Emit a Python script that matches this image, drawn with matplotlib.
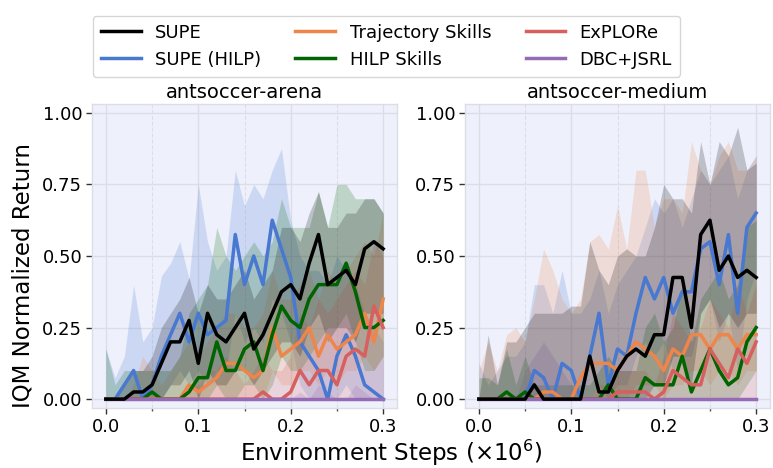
import matplotlib
matplotlib.use("Agg")
import matplotlib.pyplot as plt
from matplotlib.ticker import MultipleLocator, FormatStrFormatter
import numpy as np

steps = [0.00, 0.01, 0.02, 0.03, 0.04, 0.05, 0.06, 0.07, 0.08, 0.09, 0.10,
         0.11, 0.12, 0.13, 0.14, 0.15, 0.16, 0.17, 0.18, 0.19, 0.20,
         0.21, 0.22, 0.23, 0.24, 0.25, 0.26, 0.27, 0.28, 0.29, 0.30]

methods = ["SUPE", "SUPE (HILP)", "Trajectory Skills", "HILP Skills", "ExPLORe", "DBC+JSRL"]
colors = {"SUPE": "#000000", "SUPE (HILP)": "#4878d0", "Trajectory Skills": "#ee854a",
          "HILP Skills": "#006400", "ExPLORe": "#d65f5f", "DBC+JSRL": "#956cb4"}
titles = ["antsoccer-arena", "antsoccer-medium"]

# ---------------- antsoccer-arena ----------------
supe_mean_A = [0, 0, 0, 0.025, 0.025, 0.05, 0.125, 0.2, 0.2, 0.275, 0.125, 0.3, 0.225, 0.2, 0.25, 0.3,
               0.175, 0.225, 0.3, 0.375, 0.4, 0.35, 0.475, 0.575, 0.4, 0.425, 0.45, 0.4, 0.525, 0.55, 0.525]
supe_lo_A = [0, 0, 0, 0, 0, 0, 0, 0.05, 0.05, 0.1, 0, 0.1, 0.05, 0.05, 0.1, 0.1,
             0.05, 0.1, 0.15, 0.2, 0.2, 0.15, 0.25, 0.3, 0.2, 0.25, 0.25, 0.2, 0.3, 0.3, 0.3]
supe_hi_A = [0, 0, 0.05, 0.1, 0.1, 0.15, 0.25, 0.3, 0.35, 0.425, 0.3, 0.4, 0.35, 0.35, 0.4, 0.45,
             0.35, 0.4, 0.45, 0.6, 0.6, 0.55, 0.65, 0.725, 0.6, 0.6, 0.65, 0.65, 0.7, 0.7, 0.65]

hilp_mean_A = [0, 0, 0.05, 0.1, 0, 0.05, 0.15, 0.225, 0.3, 0.2, 0.3, 0.225, 0.25, 0.275, 0.575, 0.4,
               0.5, 0.4, 0.625, 0.525, 0.425, 0.2, 0.15, 0.1, 0, 0.15, 0.225, 0.15, 0.05, 0.025, 0]
hilp_lo_A = [0, 0, 0, 0, 0, 0, 0, 0.05, 0.1, 0.05, 0.1, 0.05, 0.1, 0.1, 0.3, 0.2,
             0.25, 0.2, 0.35, 0.3, 0.2, 0.05, 0, 0, 0, 0, 0.05, 0, 0, 0, 0]
hilp_hi_A = [0.175, 0.075, 0.15, 0.4, 0.2, 0.25, 0.43, 0.475, 0.55, 0.42, 0.75, 0.55, 0.45, 0.5, 0.8, 0.675,
             0.75, 0.7, 0.8, 0.875, 0.625, 0.5, 0.45, 0.45, 0.4, 0.5, 0.45, 0.4, 0.3, 0.25, 0.2]

traj_mean_A = [0, 0, 0, 0, 0, 0, 0, 0, 0, 0.05, 0.025, 0.05, 0.075, 0.125, 0.125, 0.1,
               0.075, 0.1, 0.25, 0.15, 0.175, 0.2, 0.25, 0.15, 0.225, 0.175, 0.2, 0.225, 0.3, 0.2, 0.35]
traj_lo_A = [0, 0, 0, 0, 0, 0, 0, 0, 0, 0, 0, 0, 0, 0, 0, 0,
             0, 0, 0.1, 0.05, 0.05, 0.1, 0.1, 0.05, 0.1, 0.05, 0.1, 0.1, 0.15, 0.1, 0.15]
traj_hi_A = [0, 0, 0, 0.05, 0.15, 0.1, 0.05, 0.1, 0.15, 0.2, 0.15, 0.2, 0.25, 0.3, 0.3, 0.25,
             0.25, 0.3, 0.45, 0.35, 0.35, 0.4, 0.45, 0.35, 0.45, 0.4, 0.45, 0.5, 0.55, 0.5, 0.65]

hskill_mean_A = [0, 0, 0, 0, 0, 0.025, 0, 0, 0, 0.025, 0.075, 0.075, 0.2, 0.1, 0.1, 0.175,
                 0.2, 0.1, 0.225, 0.325, 0.275, 0.25, 0.35, 0.4, 0.4, 0.4, 0.475, 0.375, 0.25, 0.25, 0.275]
hskill_lo_A = [0, 0, 0, 0, 0, 0, 0, 0, 0, 0, 0, 0, 0.05, 0, 0, 0.05,
               0.05, 0, 0.05, 0.15, 0.1, 0.1, 0.15, 0.2, 0.25, 0.25, 0.3, 0.2, 0.1, 0.1, 0.15]
hskill_hi_A = [0.175, 0.05, 0.1, 0.1, 0.1, 0.1, 0.1, 0.1, 0.15, 0.3, 0.35, 0.4, 0.6, 0.5, 0.45, 0.5,
               0.55, 0.5, 0.55, 0.7, 0.6, 0.6, 0.6, 0.725, 0.6, 0.75, 0.75, 0.7, 0.7, 0.7, 0.65]

explore_mean_A = [0, 0, 0, 0, 0, 0, 0, 0, 0, 0, 0, 0, 0, 0, 0, 0,
                  0, 0.025, 0, 0, 0.025, 0.1, 0.05, 0.1, 0.1, 0.05, 0.15, 0.175, 0.15, 0.325, 0.25]
explore_lo_A = [0] * 31
explore_hi_A = [0, 0, 0, 0, 0, 0, 0, 0, 0, 0.05, 0.05, 0.1, 0.1, 0.15, 0.1, 0.05,
                0.1, 0.15, 0.1, 0.1, 0.15, 0.3, 0.25, 0.35, 0.3, 0.35, 0.4, 0.45, 0.4, 0.55, 0.5]

dbc_mean_A = [0] * 31
dbc_lo_A = [0] * 31
dbc_hi_A = [0, 0, 0, 0, 0, 0, 0, 0, 0, 0, 0, 0, 0, 0, 0, 0,
            0, 0, 0, 0, 0, 0.025, 0, 0.05, 0.025, 0, 0, 0.05, 0.025, 0, 0]

# ---------------- antsoccer-medium ----------------
supe_mean_B = [0, 0, 0, 0, 0, 0, 0.05, 0, 0, 0, 0, 0, 0.15, 0.025, 0.025, 0.1,
               0.15, 0.175, 0.15, 0.225, 0.225, 0.425, 0.425, 0.25, 0.575, 0.625, 0.45, 0.5, 0.425, 0.45, 0.425]
supe_lo_B = [0, 0, 0, 0, 0, 0, 0, 0, 0, 0, 0, 0, 0, 0, 0, 0,
             0, 0, 0, 0.05, 0.05, 0.15, 0.15, 0.05, 0.3, 0.35, 0.25, 0.3, 0.25, 0.3, 0.3]
supe_hi_B = [0, 0.225, 0.05, 0.2, 0.2, 0.25, 0.3, 0.3, 0.3, 0.3, 0.325, 0.325, 0.55, 0.45, 0.4, 0.5,
             0.525, 0.5, 0.5, 0.6, 0.75, 0.7, 0.7, 0.65, 0.9, 0.75, 0.9, 0.85, 0.95, 0.8, 0.825]

hilp_mean_B = [0, 0, 0, 0, 0, 0, 0.1, 0.075, 0, 0.125, 0.1, 0, 0.15, 0.3, 0.05, 0.175,
               0.15, 0.3, 0.425, 0.35, 0.425, 0.3, 0.375, 0.375, 0.525, 0.55, 0.4, 0.575, 0.3, 0.6, 0.65]
hilp_lo_B = [0, 0, 0, 0, 0, 0, 0, 0, 0, 0, 0, 0, 0, 0.05, 0, 0.05,
             0.05, 0.15, 0.2, 0.15, 0.2, 0.1, 0.15, 0.15, 0.3, 0.35, 0.2, 0.3, 0.1, 0.35, 0.45]
hilp_hi_B = [0.125, 0.05, 0.1, 0.15, 0.15, 0.2, 0.4, 0.4, 0.3, 0.45, 0.3, 0.3, 0.35, 0.45, 0.3, 0.4,
             0.45, 0.5, 0.6, 0.7, 0.65, 0.7, 0.6, 0.7, 0.8, 0.75, 0.8, 0.85, 0.7, 0.8, 0.85]

traj_mean_B = [0, 0, 0, 0, 0, 0, 0, 0.025, 0.025, 0, 0, 0.075, 0.125, 0.125, 0.125, 0.1,
               0.15, 0.2, 0.175, 0.15, 0.1, 0.175, 0.15, 0.225, 0.225, 0.175, 0.225, 0.225, 0.175, 0.225, 0.225]
traj_lo_B = [0, 0, 0, 0, 0, 0, 0, 0, 0, 0, 0, 0, 0, 0, 0, 0,
             0, 0.05, 0.05, 0.05, 0, 0.05, 0.05, 0.1, 0.1, 0.05, 0.1, 0.1, 0.05, 0.1, 0.1]
traj_hi_B = [0.1, 0.2, 0.1, 0.225, 0.25, 0.2, 0.35, 0.525, 0.45, 0.35, 0.3, 0.35, 0.55, 0.575, 0.525, 0.675,
             0.525, 0.8, 0.8, 0.6, 0.7, 0.7, 0.65, 0.9, 0.8, 0.75, 0.85, 0.9, 0.8, 0.8, 0.85]

hskill_mean_B = [0, 0, 0, 0.025, 0, 0.025, 0, 0, 0, 0, 0, 0, 0, 0, 0.05, 0,
                 0, 0, 0.075, 0.05, 0.05, 0.05, 0.15, 0.025, 0.1, 0.175, 0.1, 0.05, 0.075, 0.2, 0.25]
hskill_lo_B = [0, 0, 0, 0, 0, 0, 0, 0, 0, 0, 0, 0, 0, 0, 0, 0,
               0, 0, 0, 0, 0, 0, 0, 0, 0, 0, 0, 0, 0, 0.05, 0.1]
hskill_hi_B = [0.075, 0.075, 0.05, 0.175, 0.05, 0.15, 0.05, 0.05, 0.05, 0.05, 0.05, 0.05, 0.05, 0.1, 0.15, 0.1,
               0.1, 0.1, 0.25, 0.3, 0.2, 0.25, 0.4, 0.2, 0.35, 0.4, 0.45, 0.35, 0.4, 0.6, 0.625]

explore_mean_B = [0, 0, 0, 0, 0, 0, 0, 0, 0, 0, 0, 0, 0, 0, 0, 0.025,
                  0.025, 0.025, 0.025, 0, 0.025, 0.1, 0.075, 0.05, 0.05, 0.175, 0.125, 0.075, 0.175, 0.125, 0.2]
explore_lo_B = [0] * 31
explore_hi_B = [0, 0, 0, 0, 0, 0, 0, 0, 0, 0, 0, 0, 0, 0.05, 0.05, 0.1,
                0.1, 0.1, 0.1, 0.05, 0.15, 0.3, 0.25, 0.2, 0.25, 0.35, 0.3, 0.25, 0.4, 0.3, 0.4]

dbc_mean_B = [0] * 31
dbc_lo_B = [0] * 31
dbc_hi_B = [0, 0, 0, 0, 0, 0.1, 0.15, 0.2, 0.15, 0.1, 0.05, 0, 0, 0, 0, 0,
            0, 0, 0, 0, 0, 0, 0, 0, 0, 0, 0, 0, 0, 0, 0]

panels = [
    {"SUPE": (supe_mean_A, supe_lo_A, supe_hi_A),
     "SUPE (HILP)": (hilp_mean_A, hilp_lo_A, hilp_hi_A),
     "Trajectory Skills": (traj_mean_A, traj_lo_A, traj_hi_A),
     "HILP Skills": (hskill_mean_A, hskill_lo_A, hskill_hi_A),
     "ExPLORe": (explore_mean_A, explore_lo_A, explore_hi_A),
     "DBC+JSRL": (dbc_mean_A, dbc_lo_A, dbc_hi_A)},
    {"SUPE": (supe_mean_B, supe_lo_B, supe_hi_B),
     "SUPE (HILP)": (hilp_mean_B, hilp_lo_B, hilp_hi_B),
     "Trajectory Skills": (traj_mean_B, traj_lo_B, traj_hi_B),
     "HILP Skills": (hskill_mean_B, hskill_lo_B, hskill_hi_B),
     "ExPLORe": (explore_mean_B, explore_lo_B, explore_hi_B),
     "DBC+JSRL": (dbc_mean_B, dbc_lo_B, dbc_hi_B)},
]

plt.rcParams['font.family'] = ['DejaVu Sans']
fig = plt.figure(figsize=(7.73, 4.68), dpi=100)
W, H = 773, 468
ax_rects = [[92 / W, 1 - 408 / H, 305 / W, 304 / H],
            [465 / W, 1 - 408 / H, 305 / W, 304 / H]]

draw_order = ["SUPE (HILP)", "Trajectory Skills", "HILP Skills", "ExPLORe", "DBC+JSRL", "SUPE"]
handles = {}
for k, data in enumerate(panels):
    ax = fig.add_axes(ax_rects[k])
    ax.set_facecolor("#eef1fc")
    for sp in ax.spines.values():
        sp.set_color("#dcdde6")
        sp.set_linewidth(1.0)
    for m in draw_order:
        mean, lo, hi = data[m]
        ax.fill_between(steps, lo, hi, color=colors[m], alpha=0.2, linewidth=0, zorder=1)
    for z, m in enumerate(draw_order):
        mean, lo, hi = data[m]
        ln, = ax.plot(steps, mean, color=colors[m], lw=2.5, zorder=3 + z, label=m)
        handles[m] = ln
    ax.set_xlim(-0.015, 0.315)
    ax.set_ylim(-0.031, 1.031)
    ax.xaxis.set_major_locator(MultipleLocator(0.1))
    ax.xaxis.set_minor_locator(MultipleLocator(0.05))
    ax.yaxis.set_major_locator(MultipleLocator(0.25))
    ax.xaxis.set_major_formatter(FormatStrFormatter('%.1f'))
    ax.yaxis.set_major_formatter(FormatStrFormatter('%.2f'))
    ax.grid(True, which='major', color="#dcdde6", lw=1.0, zorder=0)
    ax.grid(True, which='minor', axis='x', color="#dcdde6", lw=0.8, ls='--', zorder=0)
    ax.set_axisbelow(True)
    ax.tick_params(axis='both', which='major', labelsize=13, length=4, width=1, color="#333333", pad=3)
    ax.tick_params(axis='x', which='minor', length=2.5, width=1, color="#555555")
    ax.set_title(titles[k], fontsize=14, pad=4)

fig.text(0.030, 1 - 275 / H, "IQM Normalized Return", rotation=90, fontsize=16.5,
         ha='center', va='center')
fig.text(0.506, 1 - 453 / H, r"Environment Steps ($\times 10^6$)", fontsize=16.5,
         ha='center', va='center')

fig.legend([handles[m] for m in methods], methods, loc='upper center',
           bbox_to_anchor=(0.5, 0.986), ncol=3, fontsize=13, frameon=True,
           fancybox=True, edgecolor="#cccccc", handlelength=2.2, handletextpad=0.8,
           columnspacing=1.9, labelspacing=0.5, borderpad=0.45)

fig.savefig("out.png", dpi=100)
